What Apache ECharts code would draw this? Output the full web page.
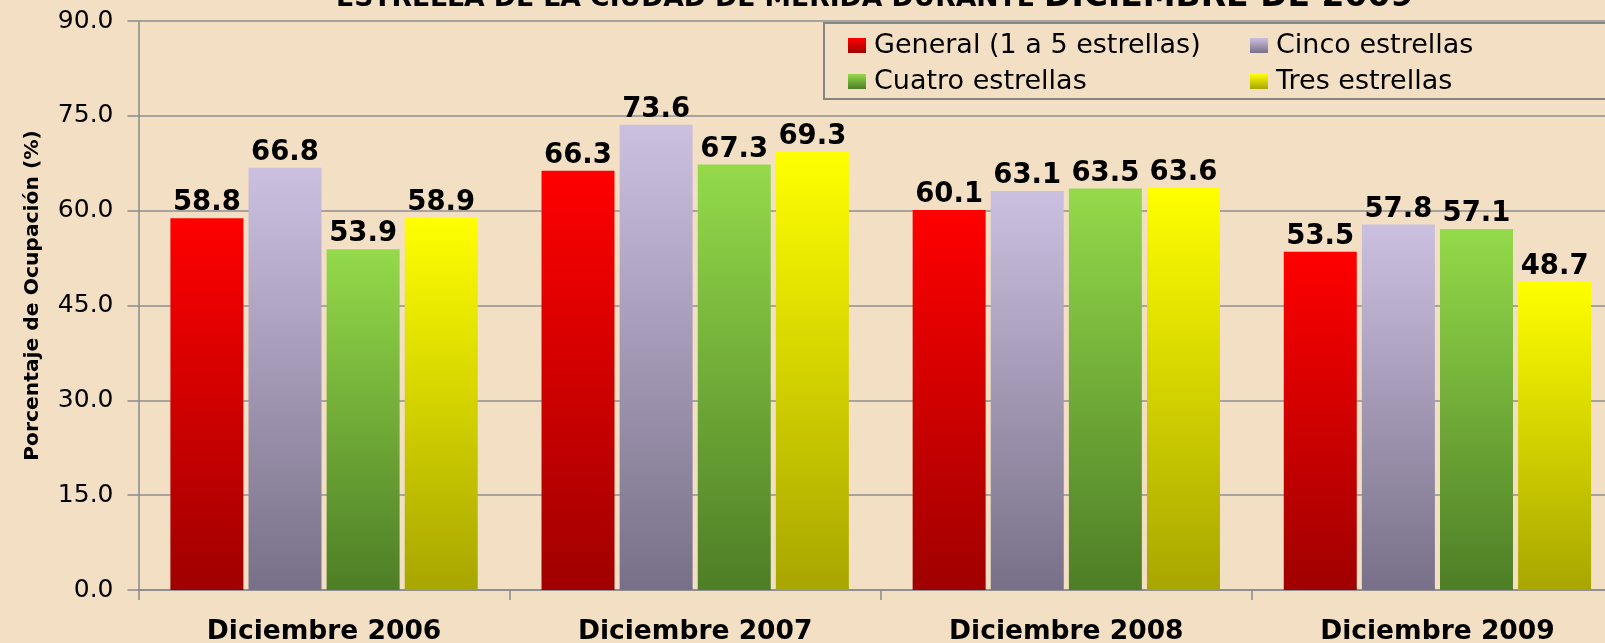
<!DOCTYPE html>
<html>
<head>
<meta charset="utf-8">
<script src="https://cdn.jsdelivr.net/npm/echarts@6/dist/echarts.min.js"></script>
<style>
html,body{margin:0;padding:0;background:#F3DFC4;}
#chart{width:1605px;height:643px;}
</style>
</head>
<body>
<div id="chart"></div>
<script>
const categories = ['Diciembre 2006', 'Diciembre 2007', 'Diciembre 2008', 'Diciembre 2009'];
const seriesNames = ['General (1 a 5 estrellas)', 'Cinco estrellas', 'Cuatro estrellas', 'Tres estrellas'];
const general = [58.8, 66.3, 60.1, 53.5];
const cinco = [66.8, 73.6, 63.1, 57.8];
const cuatro = [53.9, 67.3, 63.5, 57.1];
const tres = [58.9, 69.3, 63.6, 48.7];
const yTicks = [0, 15, 30, 45, 60, 75, 90];
const titleSmall = 'ESTRELLA DE LA CIUDAD DE MÉRIDA DURANTE';
const titleBig = 'DICIEMBRE DE 2009';
const yAxisName = 'Porcentaje de Ocupación (%)';

function grad(top, bottom) {
  return new echarts.graphic.LinearGradient(0, 0, 0, 1, [
    {offset: 0, color: top}, {offset: 1, color: bottom}
  ]);
}
const colors = [
  grad('#FF0000', '#A00000'),
  grad('#CCC0E0', '#787088'),
  grad('#94DA4A', '#4E7E26'),
  grad('#FFFF00', '#A8A600')
];
const values = [general, cinco, cuatro, tres];

const chart = echarts.init(document.getElementById('chart'));
const legendText = {
  fontFamily: 'DejaVu Sans', fontSize: 27, color: '#000', lineHeight: 26, padding: [0, 0, 0, 3]
};
chart.setOption({
  backgroundColor: '#F3DFC4',
  animation: false,
  grid: {left: 138.5, right: -18, top: 21, bottom: 53, outerBoundsMode: 'none'},
  graphic: [
    {type: 'rect', shape: {x: 824, y: 23, width: 800, height: 76},
     style: {fill: 'none', stroke: '#858585', lineWidth: 2}, z: 1},
    {type: 'text', x: 336, y: -1, z: 5,
     style: {text: titleSmall, font: 'bold 26.6px "DejaVu Sans"', fill: '#000', align: 'left', verticalAlign: 'middle'}},
    {type: 'text', x: 1044, y: -3, z: 5,
     style: {text: titleBig, font: 'bold 33px "DejaVu Sans"', fill: '#000', align: 'left', verticalAlign: 'middle'}}
  ],
  legend: [
    {data: [seriesNames[0], seriesNames[2]], orient: 'vertical', left: 843, top: 27,
     itemWidth: 18, itemHeight: 15, itemGap: 9, icon: 'rect', textStyle: legendText},
    {data: [seriesNames[1], seriesNames[3]], orient: 'vertical', left: 1245, top: 27,
     itemWidth: 18, itemHeight: 15, itemGap: 9, icon: 'rect', textStyle: legendText}
  ],
  xAxis: {
    type: 'category',
    data: categories,
    axisLine: {lineStyle: {color: '#8A8A8A', width: 1.5}},
    axisTick: {show: true, length: 10, lineStyle: {color: '#8A8A8A', width: 1.5}},
    axisLabel: {interval: 0, margin: 29, color: '#000', fontFamily: 'DejaVu Sans', fontWeight: 'bold', fontSize: 26.5}
  },
  yAxis: {
    type: 'value',
    min: yTicks[0], max: yTicks[yTicks.length - 1], interval: 15,
    name: yAxisName,
    nameLocation: 'middle',
    nameGap: 96,
    nameRotate: 90,
    nameTextStyle: {fontFamily: 'DejaVu Sans', fontWeight: 'bold', fontSize: 20.3, color: '#000',
      padding: [0, 0, 0, 20]},
    axisLine: {show: true, lineStyle: {color: '#8A8A8A', width: 1.5}},
    axisTick: {show: true, length: 11, lineStyle: {color: '#8A8A8A', width: 1.5}},
    axisLabel: {margin: 25, color: '#000', fontFamily: 'DejaVu Sans', fontSize: 25,
      formatter: v => v.toFixed(1)},
    splitLine: {lineStyle: {color: '#8F8F8F', width: 1.5}}
  },
  series: seriesNames.map((name, i) => ({
    name: name,
    type: 'bar',
    data: values[i],
    barWidth: 73,
    barGap: '7%',
    itemStyle: {color: colors[i]},
    label: {show: true, position: 'top', distance: 1, color: '#000',
      fontFamily: 'DejaVu Sans', fontWeight: 'bold', fontSize: 27.5,
      formatter: p => p.value.toFixed(1)}
  }))
});
</script>
</body>
</html>
